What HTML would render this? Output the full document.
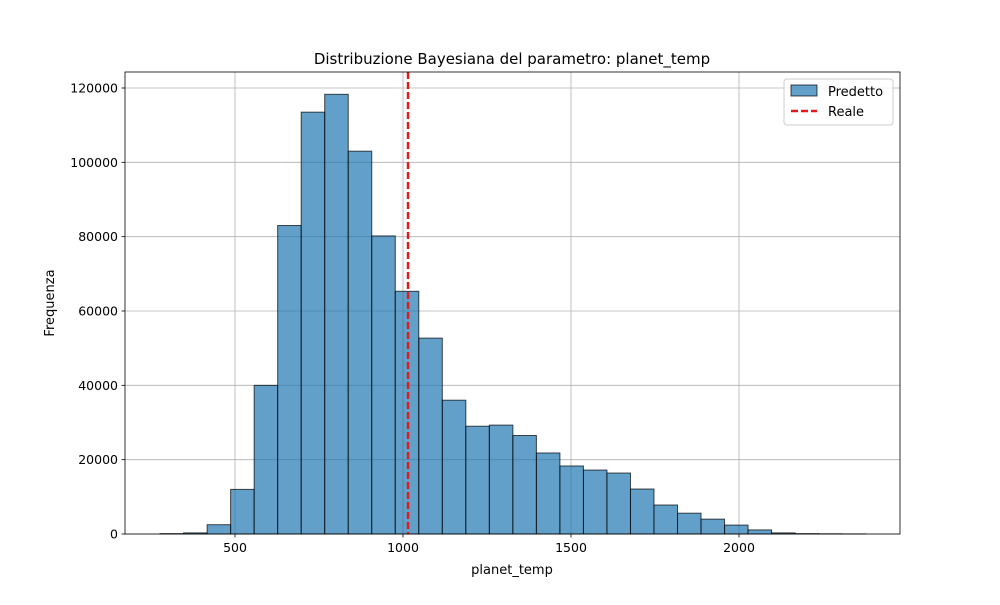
<!DOCTYPE html>
<html><head><meta charset="utf-8"><style>
body{margin:0;background:#fff;font-family:"Liberation Sans","DejaVu Sans",sans-serif;}
svg text{font-family:"DejaVu Sans","Liberation Sans",sans-serif;}
</style></head><body>
<svg id="chart" width="1000" height="600">
<rect width="1000" height="600" fill="#fff"/>
<g id="grid"></g><g id="bars"></g><g id="ref"></g><g id="axes"></g>
</svg>
<script>
const binStart = 277;
const binWidth = 70;
const counts = [100,300,2500,12000,40000,83000,113500,118300,103000,80200,65300,52700,36000,29000,29300,26500,21800,18300,17200,16400,12100,7800,5600,4000,2400,1100,300,100,50,20];
const xTicks = [500,1000,1500,2000];
const yTicks = [0,20000,40000,60000,80000,100000,120000];
const realValue = 1015;

const L=125,R=900,T=72,B=534;
const xs=v=>67+v*0.336;
const ys=v=>B-v*(446/120000);
const NS='http://www.w3.org/2000/svg';
function mk(tag,attrs,parent,txt){const e=document.createElementNS(NS,tag);for(const k in attrs)e.setAttribute(k,attrs[k]);if(txt!==undefined)e.textContent=txt;parent.appendChild(e);return e;}
const grid=document.getElementById('grid'),bars=document.getElementById('bars'),ref=document.getElementById('ref'),axes=document.getElementById('axes');
xTicks.forEach(t=>{
 const g=mk('line',{x1:xs(t),x2:xs(t),y1:T,y2:B,stroke:'#b0b0b0','stroke-width':0.8},grid);
 
 
 mk('line',{x1:xs(t),x2:xs(t),y1:B,y2:B+3.5,stroke:'#000','stroke-width':0.8},axes);
 const tx=mk('text',{x:xs(t),y:B+18,'font-size':12.5,'text-anchor':'middle'},axes,t);
 
 
});
yTicks.forEach(t=>{
 const g=mk('line',{x1:L,x2:R,y1:ys(t),y2:ys(t),stroke:'#b0b0b0','stroke-width':0.8},grid);
 
 
 mk('line',{x1:L-3.5,x2:L,y1:ys(t),y2:ys(t),stroke:'#000','stroke-width':0.8},axes);
 const tx=mk('text',{x:L-7,y:ys(t)+4.5,'font-size':12.5,'text-anchor':'end'},axes,t);
 
 
});
counts.forEach((c,i)=>{
 const x0=xs(binStart+i*binWidth),x1=xs(binStart+(i+1)*binWidth);
 const r=mk('rect',{x:x0,y:ys(c),width:x1-x0,height:B-ys(c),fill:'rgba(31,119,180,0.7)',stroke:'rgba(0,0,0,0.7)','stroke-width':1},bars);
 
 
});
const rl=mk('line',{x1:xs(realValue),x2:xs(realValue),y1:T,y2:B,stroke:'#e41a1a','stroke-width':2.5,'stroke-dasharray':'7,3'},ref);


const fr=mk('rect',{x:L,y:T,width:R-L,height:B-T,fill:'none',stroke:'#000','stroke-width':0.8},axes);


</script>
<svg width="1000" height="600" style="position:absolute;left:0;top:0">
<text x="512" y="64" font-size="15" text-anchor="middle">Distribuzione Bayesiana del parametro: planet_temp</text>
<text x="512" y="574" font-size="13" text-anchor="middle">planet_temp</text>
<text x="54" y="303" font-size="13" text-anchor="middle" transform="rotate(-90 54 303)">Frequenza</text>
<g>
<rect x="784" y="79" width="109" height="46" rx="3" fill="#fff" fill-opacity="0.8" stroke="#ccc"/>
<rect x="791" y="85" width="26" height="11" fill="rgba(31,119,180,0.7)" stroke="rgba(0,0,0,0.7)"/>
<text x="828" y="96" font-size="13">Predetto</text>
<line x1="791" y1="111" x2="817" y2="111" stroke="#e41a1a" stroke-width="2.5" stroke-dasharray="7,3"/>
<text x="828" y="116" font-size="13">Reale</text>
</g>
</svg>
</body></html>
